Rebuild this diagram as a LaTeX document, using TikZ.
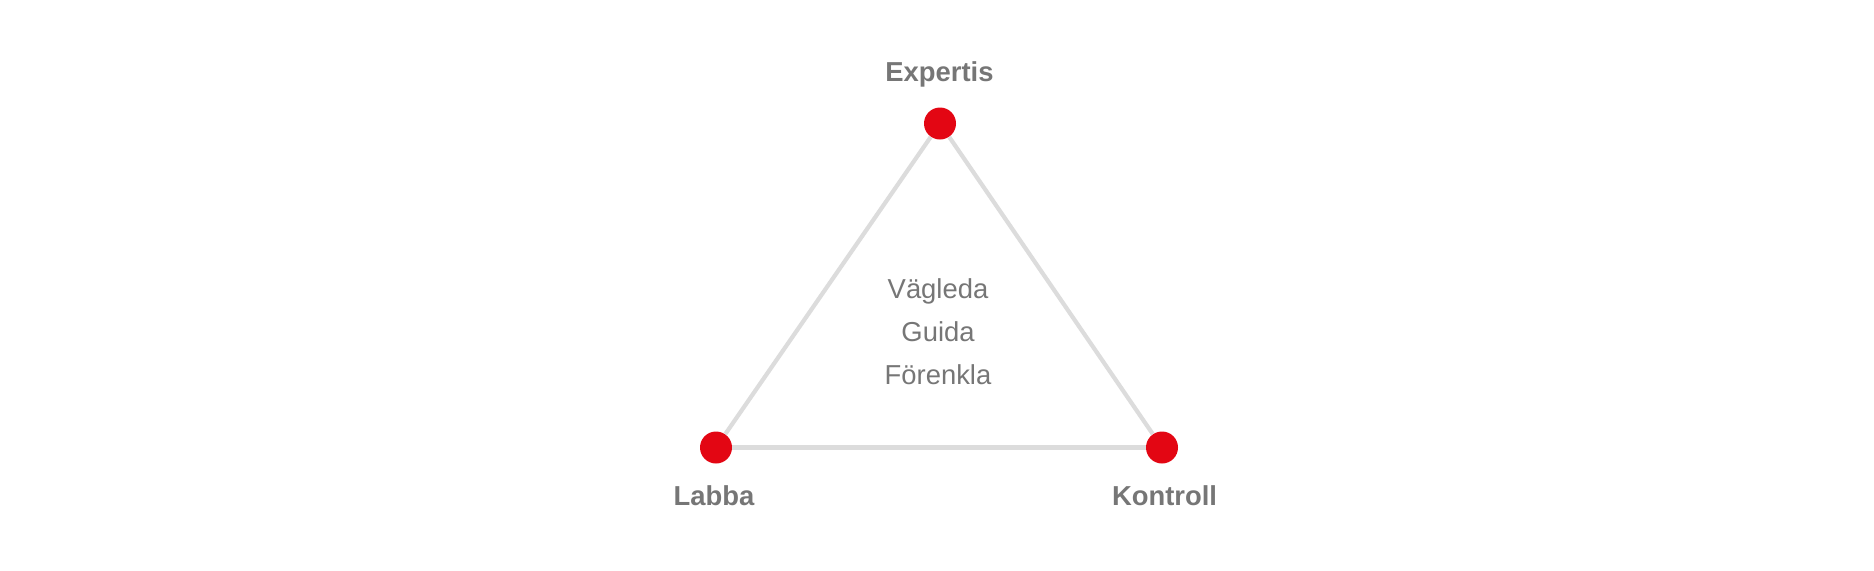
\documentclass[tikz,border=0pt]{standalone}
\usepackage{fontspec}
\setmainfont{Liberation Sans}
\definecolor{dotred}{HTML}{E30613}
\definecolor{edgegray}{HTML}{DCDCDC}
\definecolor{txtgray}{HTML}{767676}
\begin{document}
\begin{tikzpicture}[x=0.5pt,y=-0.5pt,
  dot/.style={circle,fill=dotred,inner sep=0pt,minimum size=16pt},
  edge/.style={draw=edgegray,line width=2.1pt},
  corner/.style={font=\fontsize{13.7pt}{16pt}\selectfont\bfseries,text=txtgray,anchor=base,inner sep=0pt},
  inner/.style={font=\fontsize{13.7pt}{16pt}\selectfont,text=txtgray,anchor=base,inner sep=0pt}]
\useasboundingbox (0,0) rectangle (1874,570);
\node[dot] (top) at (940,123.5) {};
\node[dot] (left) at (716,447.5) {};
\node[dot] (right) at (1162,447.5) {};
\draw[edge] (top) -- (left);
\draw[edge] (top) -- (right);
\draw[edge] (left) -- (right);
\node[corner] (tl) at (939.5,81.7) {Expertis};
\node[corner] (ll) at (714,505) {Labba};
\node[corner] (rl) at (1164.5,505) {Kontroll};
\node[inner] (c1) at (938,298) {Vägleda};
\node[inner] (c2) at (938,341) {Guida};
\node[inner] (c3) at (938,384) {Förenkla};
\end{tikzpicture}
\end{document}
